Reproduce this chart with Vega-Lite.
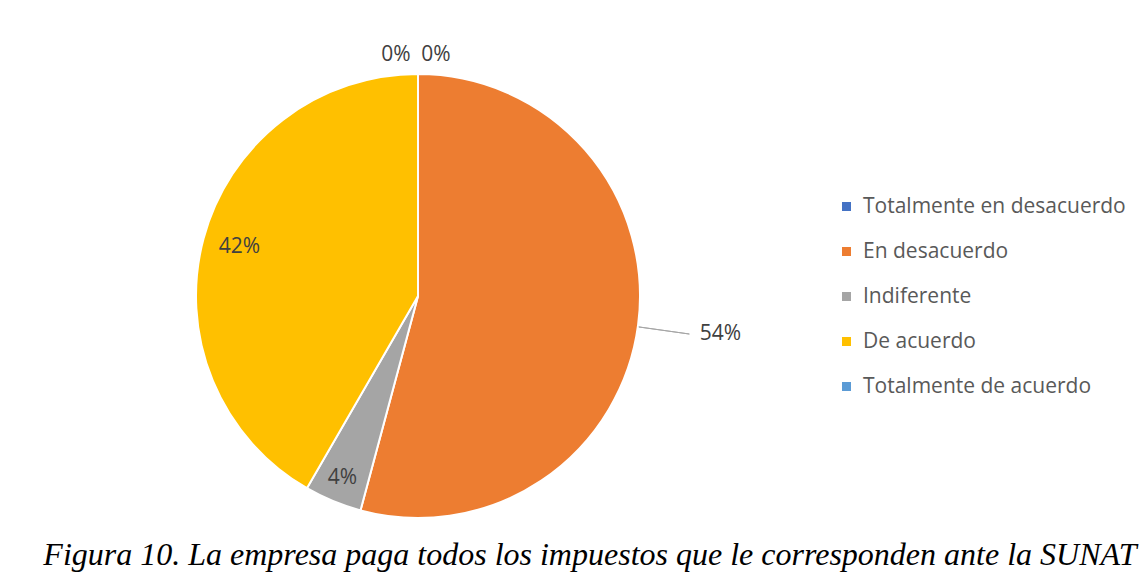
{
  "$schema": "https://vega.github.io/schema/vega-lite/v6.json",
  "width": 444,
  "height": 444,
  "autosize": {"type": "none"},
  "padding": {"left": 196, "top": 74, "right": 505, "bottom": 61},
  "background": "white",
  "config": {"view": {"stroke": null}},
  "title": {
    "text": "Figura 10. La empresa paga todos los impuestos que le corresponden ante la SUNAT",
    "orient": "bottom",
    "frame": "group",
    "anchor": "middle",
    "dx": 172,
    "offset": -46,
    "font": "Liberation Serif",
    "fontStyle": "italic",
    "fontWeight": "normal",
    "fontSize": 32,
    "color": "#000000"
  },
  "data": {
    "values": [
      {"categoria": "Totalmente en desacuerdo", "orden": 1, "pct": 0},
      {"categoria": "En desacuerdo", "orden": 2, "pct": 0.5417},
      {"categoria": "Indiferente", "orden": 3, "pct": 0.0417},
      {"categoria": "De acuerdo", "orden": 4, "pct": 0.4166},
      {"categoria": "Totalmente de acuerdo", "orden": 5, "pct": 0}
    ]
  },
  "layer": [
    {
      "mark": {"type": "arc", "outerRadius": 222, "stroke": "white", "strokeWidth": 2},
      "encoding": {
        "theta": {"field": "pct", "type": "quantitative", "stack": true},
        "order": {"field": "orden", "type": "quantitative", "sort": "ascending"},
        "color": {
          "field": "categoria",
          "type": "nominal",
          "scale": {
            "domain": ["Totalmente en desacuerdo", "En desacuerdo", "Indiferente", "De acuerdo", "Totalmente de acuerdo"],
            "range": ["#4472C4", "#ED7D31", "#A5A5A5", "#FFC000", "#5B9BD5"]
          },
          "legend": {
            "title": null,
            "orient": "none",
            "legendX": 640,
            "legendY": 122,
            "symbolType": "square",
            "symbolSize": 81,
            "symbolStrokeWidth": 0,
            "labelFont": "Open Sans",
            "labelFontSize": 21,
            "labelColor": "#595959",
            "labelOffset": 6,
            "rowPadding": 23,
            "labelLimit": 400
          }
        }
      }
    },
    {
      "transform": [
        {"stack": "pct", "groupby": [], "sort": [{"field": "orden", "order": "ascending"}], "as": ["t0", "t1"]},
        {"filter": "datum.categoria == 'En desacuerdo'"}
      ],
      "mark": {"type": "arc", "radius": 223, "radius2": 274, "thetaOffset": 1.71, "theta2Offset": -1.6936, "fill": null, "stroke": "#a6a6a6", "strokeWidth": 1},
      "encoding": {
        "theta": {"field": "t0", "type": "quantitative"},
        "theta2": {"field": "t1"}
      }
    },
    {
      "mark": {"type": "text", "radius": 197, "font": "Open Sans", "fontSize": 21, "color": "#404040"},
      "encoding": {
        "theta": {"field": "pct", "type": "quantitative", "stack": true},
        "order": {"field": "orden", "type": "quantitative", "sort": "ascending"},
        "text": {"field": "pct", "type": "quantitative", "format": ".0%", "condition": {"test": "datum.categoria != 'Indiferente'", "value": ""}}
      }
    },
    {
      "mark": {"type": "text", "radius": 185, "dy": -1, "font": "Open Sans", "fontSize": 21, "color": "#404040"},
      "encoding": {
        "theta": {"field": "pct", "type": "quantitative", "stack": true},
        "order": {"field": "orden", "type": "quantitative", "sort": "ascending"},
        "text": {"field": "pct", "type": "quantitative", "format": ".0%", "condition": {"test": "datum.categoria != 'De acuerdo'", "value": ""}}
      }
    },
    {
      "mark": {"type": "text", "radius": 305, "dy": -2, "font": "Open Sans", "fontSize": 21, "color": "#404040"},
      "encoding": {
        "theta": {"field": "pct", "type": "quantitative", "stack": true},
        "order": {"field": "orden", "type": "quantitative", "sort": "ascending"},
        "text": {"field": "pct", "type": "quantitative", "format": ".0%", "condition": {"test": "datum.categoria != 'En desacuerdo'", "value": ""}}
      }
    },
    {
      "mark": {"type": "text", "radius": 241, "dx": -22, "font": "Open Sans", "fontSize": 21, "color": "#404040"},
      "encoding": {
        "theta": {"field": "pct", "type": "quantitative", "stack": true},
        "order": {"field": "orden", "type": "quantitative", "sort": "ascending"},
        "text": {"field": "pct", "type": "quantitative", "format": ".0%", "condition": {"test": "datum.categoria != 'Totalmente en desacuerdo'", "value": ""}}
      }
    },
    {
      "mark": {"type": "text", "radius": 241, "dx": 18, "font": "Open Sans", "fontSize": 21, "color": "#404040"},
      "encoding": {
        "theta": {"field": "pct", "type": "quantitative", "stack": true},
        "order": {"field": "orden", "type": "quantitative", "sort": "ascending"},
        "text": {"field": "pct", "type": "quantitative", "format": ".0%", "condition": {"test": "datum.categoria != 'Totalmente de acuerdo'", "value": ""}}
      }
    }
  ]
}
